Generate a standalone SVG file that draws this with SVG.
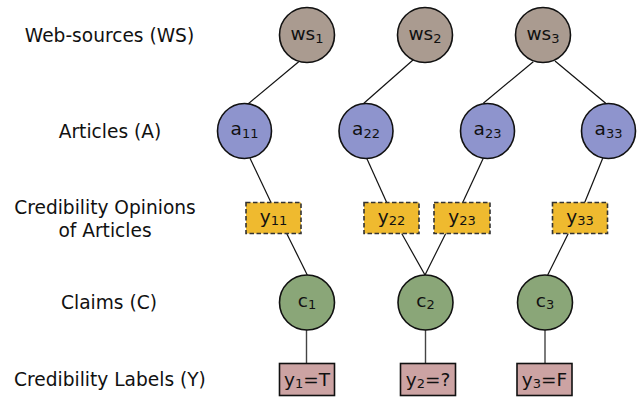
<svg xmlns="http://www.w3.org/2000/svg" width="641" height="397" viewBox="0 0 641 397">
<style>
text{font-family:"DejaVu Sans","Liberation Sans",sans-serif;fill:#111}
.row{font-size:18.6px;text-anchor:middle}
.nt{font-size:18.5px;text-anchor:middle}
.sub{font-size:13px}
.ws{fill:#aa9b90;stroke:#111;stroke-width:1.6}
.ar{fill:#8e94cd;stroke:#111;stroke-width:1.6}
.cl{fill:#8aa678;stroke:#111;stroke-width:1.6}
.op{fill:#efba2f;stroke:#333;stroke-width:1.6;stroke-dasharray:4.5 2.5}
.lb{fill:#cca3a3;stroke:#111;stroke-width:1.6}
.e{stroke:#111;stroke-width:1.2;fill:none}
.v{stroke:#444;stroke-width:1.4;fill:none}
</style>
<g id="row-labels">
<text class="row" x="109.5" y="41.8">Web-sources (WS)</text>
<text class="row" x="110" y="137.8">Articles (A)</text>
<text class="row" x="105" y="213.5">Credibility Opinions</text>
<text class="row" x="105" y="237">of Articles</text>
<text class="row" x="109" y="309.3">Claims (C)</text>
<text class="row" x="110" y="386">Credibility Labels (Y)</text>
</g>
<g id="connectors">
<line class="e" x1="298.7" y1="61.7" x2="248" y2="104"/>
<line class="e" x1="413" y1="60" x2="363" y2="104"/>
<line class="e" x1="533.3" y1="61.7" x2="483.3" y2="103.3"/>
<line class="e" x1="555" y1="61" x2="605.7" y2="103.3"/>
<line class="e" x1="250" y1="158.3" x2="271" y2="202.5"/>
<line class="e" x1="366.7" y1="158.3" x2="386.7" y2="202.5"/>
<line class="e" x1="483.3" y1="158.3" x2="462.7" y2="202.5"/>
<line class="e" x1="602.7" y1="158.3" x2="584.7" y2="202.5"/>
<line class="e" x1="286.7" y1="233.5" x2="307.3" y2="275"/>
<line class="e" x1="401.7" y1="233.5" x2="425" y2="275"/>
<line class="e" x1="445.7" y1="233.5" x2="425" y2="275"/>
<line class="e" x1="568.3" y1="233.5" x2="547.7" y2="275"/>
<line class="v" x1="306.5" y1="330" x2="306.5" y2="363.5"/>
<line class="v" x1="425.5" y1="330" x2="425.5" y2="363.5"/>
<line class="v" x1="545" y1="330" x2="545" y2="363.5"/>
</g>
<g id="ws1"><ellipse class="ws" cx="307" cy="35" rx="27.5" ry="27.5"/><text class="nt" x="307" y="39.5">ws<tspan class="sub" dy="3">1</tspan></text></g>
<g id="ws2"><ellipse class="ws" cx="425" cy="35" rx="27.5" ry="27.5"/><text class="nt" x="425" y="39.5">ws<tspan class="sub" dy="3">2</tspan></text></g>
<g id="ws3"><ellipse class="ws" cx="543" cy="35" rx="27.5" ry="27.5"/><text class="nt" x="543" y="39.5">ws<tspan class="sub" dy="3">3</tspan></text></g>
<g id="a11"><ellipse class="ar" cx="244.5" cy="131" rx="27" ry="27.5"/><text class="nt" x="244.5" y="135">a<tspan class="sub" dy="3">11</tspan></text></g>
<g id="a22"><ellipse class="ar" cx="366" cy="131" rx="27" ry="27.5"/><text class="nt" x="366" y="135">a<tspan class="sub" dy="3">22</tspan></text></g>
<g id="a23"><ellipse class="ar" cx="487.5" cy="131" rx="27" ry="27.5"/><text class="nt" x="487.5" y="135">a<tspan class="sub" dy="3">23</tspan></text></g>
<g id="a33"><ellipse class="ar" cx="608.5" cy="131" rx="27" ry="27.5"/><text class="nt" x="608.5" y="135">a<tspan class="sub" dy="3">33</tspan></text></g>
<g id="y11"><rect class="op" x="246" y="202.5" width="55" height="31"/><text class="nt" x="273.5" y="222.5">y<tspan class="sub" dy="2">11</tspan></text></g>
<g id="y22"><rect class="op" x="364" y="202.5" width="55" height="31"/><text class="nt" x="391.5" y="222.5">y<tspan class="sub" dy="2">22</tspan></text></g>
<g id="y23"><rect class="op" x="434" y="202.5" width="56" height="31"/><text class="nt" x="462" y="222.5">y<tspan class="sub" dy="2">23</tspan></text></g>
<g id="y33"><rect class="op" x="552.5" y="202.5" width="55" height="31"/><text class="nt" x="580" y="222.5">y<tspan class="sub" dy="2">33</tspan></text></g>
<g id="c1"><ellipse class="cl" cx="307" cy="302.5" rx="27.5" ry="27.5"/><text class="nt" x="307" y="306.7">c<tspan class="sub" dy="2.5">1</tspan></text></g>
<g id="c2"><ellipse class="cl" cx="425.5" cy="302.5" rx="27.5" ry="27.5"/><text class="nt" x="425.5" y="306.7">c<tspan class="sub" dy="2.5">2</tspan></text></g>
<g id="c3"><ellipse class="cl" cx="545" cy="302.5" rx="27.5" ry="27.5"/><text class="nt" x="545" y="306.7">c<tspan class="sub" dy="2.5">3</tspan></text></g>
<g id="y1"><rect class="lb" x="279.5" y="363.5" width="55" height="32"/><text class="nt" x="307" y="386">y<tspan class="sub" dy="2">1</tspan><tspan dy="-2">=T</tspan></text></g>
<g id="y2"><rect class="lb" x="400.5" y="363.5" width="55" height="32"/><text class="nt" x="428" y="386">y<tspan class="sub" dy="2">2</tspan><tspan dy="-2">=?</tspan></text></g>
<g id="y3"><rect class="lb" x="517" y="363.5" width="55" height="32"/><text class="nt" x="544.5" y="386">y<tspan class="sub" dy="2">3</tspan><tspan dy="-2">=F</tspan></text></g>
</svg>
